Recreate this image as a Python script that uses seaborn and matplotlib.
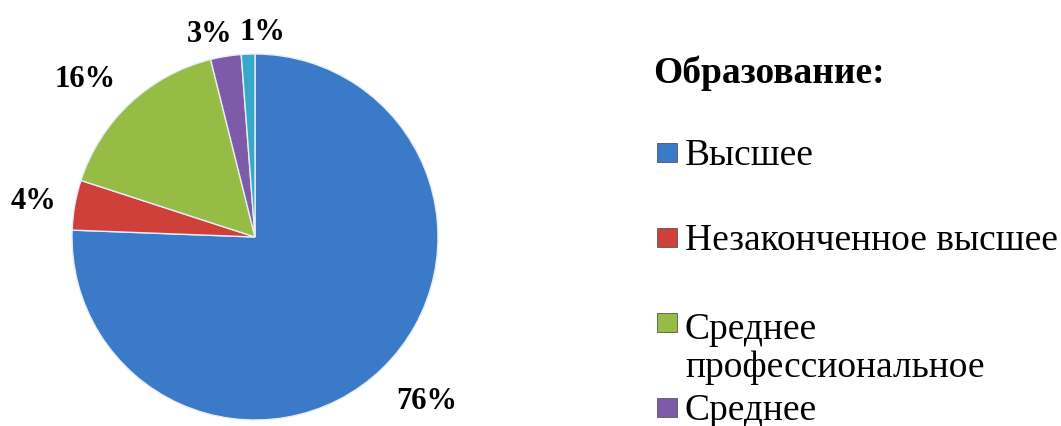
import matplotlib
matplotlib.use("Agg")
import matplotlib.pyplot as plt
import seaborn as sns
import numpy as np
from matplotlib.patches import Rectangle

categories = ["Высшее", "Незаконченное высшее", "Среднее\nпрофессиональное", "Среднее", "Другое"]
shares = [75.6, 4.4, 16.1, 2.7, 1.2]
colors = ["#3b79c9", "#cf403b", "#96bc46", "#7e5ba9", "#36a9c8"]
legend_title = "Образование:"

sns.set_theme(style="white")
plt.rcParams['font.family'] = ['Liberation Serif', 'DejaVu Serif']

W, H = 1061, 426
fig = plt.figure(figsize=(W / 100, H / 100), dpi=100)
fig.patch.set_facecolor("white")

cx, cy, r = 255, 237, 183
ax = fig.add_axes([(cx - r) / W, (H - cy - r) / H, 2 * r / W, 2 * r / H])
ax.axis("off")

wedges, texts, autotexts = ax.pie(
    shares, colors=colors, startangle=90, counterclock=False, radius=1,
    autopct="%.0f%%", pctdistance=1.25,
    wedgeprops=dict(edgecolor="#e6eef6", linewidth=1.0),
    textprops=dict(fontsize=22, fontweight="bold", color="black"),
)
ax.set_xlim(-1, 1)
ax.set_ylim(-1, 1)
ax.set_aspect("equal")

# label nudges (axes units) to follow the original's best-fit placement
label_dx = [0.07, 0.02, -0.077, -0.05, 0.09]
label_dy = [0.0, -0.027, -0.055, -0.13, -0.13]
for t, dx, dy in zip(autotexts, label_dx, label_dy):
    x, y = t.get_position()
    t.set_position((x + dx, y + dy))
    t.set_clip_on(False)

# legend (slot-based, like the original)
fig.text(653 / W, 1 - 83 / H, legend_title, fontsize=27, fontweight="bold",
         ha="left", va="baseline", color="black")
base0, pitch, line_px = 165, 85, 42
for i, (cat, col) in enumerate(zip(categories, colors)):
    yb = base0 + i * pitch
    fig.patches.append(Rectangle((657 / W, 1 - (yb - 3) / H), 20 / W, 19 / H,
                                 transform=fig.transFigure, facecolor=col,
                                 edgecolor="#555555", linewidth=0.6))
    last_base = yb + cat.count("\n") * line_px
    fig.text(685 / W, 1 - last_base / H, cat, fontsize=27, ha="left", va="baseline",
             linespacing=1.12, color="black")

fig.savefig("out.png", dpi=100)
